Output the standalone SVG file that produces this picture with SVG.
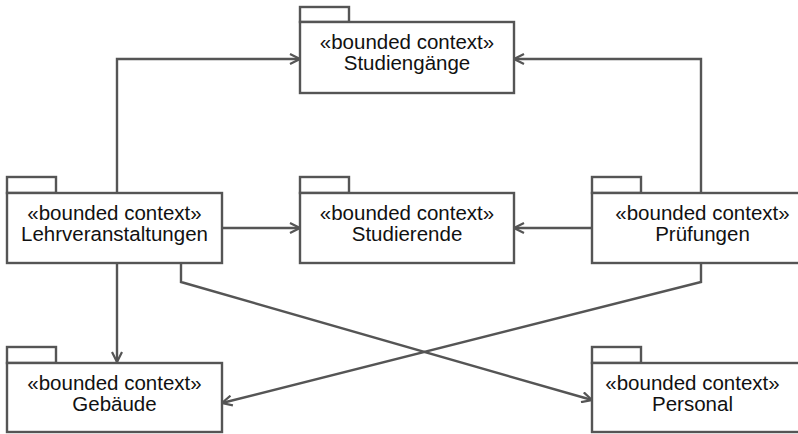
<svg xmlns="http://www.w3.org/2000/svg" width="798" height="434" viewBox="0 0 798 434">
  <style>
    .pkg rect { fill: #ffffff; stroke: #555555; stroke-width: 2.4; }
    .pkg text { font-family: "Liberation Sans", Arial, Helvetica, sans-serif; font-size: 20.5px; fill: #111111; text-anchor: middle; }
    .edge { fill: none; stroke: #555555; stroke-width: 2.4; marker-end: url(#open); }
  </style>
  <defs>
    <marker id="open" viewBox="0 0 12 12" refX="11" refY="6" markerWidth="12" markerHeight="12" markerUnits="userSpaceOnUse" orient="auto">
      <path d="M1,1 L11,6 L1,11" fill="none" stroke="#555555" stroke-width="2.2"/>
    </marker>
  </defs>

  <rect width="798" height="434" fill="#ffffff"/>

  <g id="connectors">
    <path class="edge" d="M117,193 V59 H300"/>
    <path class="edge" d="M701,193 V59 H514"/>
    <path class="edge" d="M222,228 H300"/>
    <path class="edge" d="M592,228 H514"/>
    <path class="edge" d="M117,263 V362"/>
    <path class="edge" d="M181,263 V282 L592,400"/>
    <path class="edge" d="M701,263 V282 L222,403"/>
  </g>

  <g id="studiengaenge" class="pkg">
    <rect x="300" y="7" width="49" height="15"/>
    <rect x="300" y="22" width="214" height="71"/>
    <text x="407" y="49">«bounded context»</text>
    <text x="407" y="70">Studiengänge</text>
  </g>

  <g id="lehrveranstaltungen" class="pkg">
    <rect x="7" y="177" width="49" height="16"/>
    <rect x="7" y="193" width="215" height="70"/>
    <text x="114.5" y="220">«bounded context»</text>
    <text x="114.5" y="241">Lehrveranstaltungen</text>
  </g>

  <g id="studierende" class="pkg">
    <rect x="300" y="177" width="49" height="16"/>
    <rect x="300" y="193" width="214" height="70"/>
    <text x="407" y="220">«bounded context»</text>
    <text x="407" y="241">Studierende</text>
  </g>

  <g id="pruefungen" class="pkg">
    <rect x="592" y="177" width="49" height="16"/>
    <rect x="592" y="193" width="220" height="70"/>
    <text x="702.5" y="220">«bounded context»</text>
    <text x="702.5" y="241">Prüfungen</text>
  </g>

  <g id="gebaeude" class="pkg">
    <rect x="7" y="347" width="49" height="16"/>
    <rect x="7" y="363" width="215" height="69"/>
    <text x="114.5" y="390">«bounded context»</text>
    <text x="114.5" y="411">Gebäude</text>
  </g>

  <g id="personal" class="pkg">
    <rect x="592" y="347" width="49" height="16"/>
    <rect x="592" y="363" width="220" height="69"/>
    <text x="692.5" y="390">«bounded context»</text>
    <text x="692.5" y="411">Personal</text>
  </g>
</svg>
